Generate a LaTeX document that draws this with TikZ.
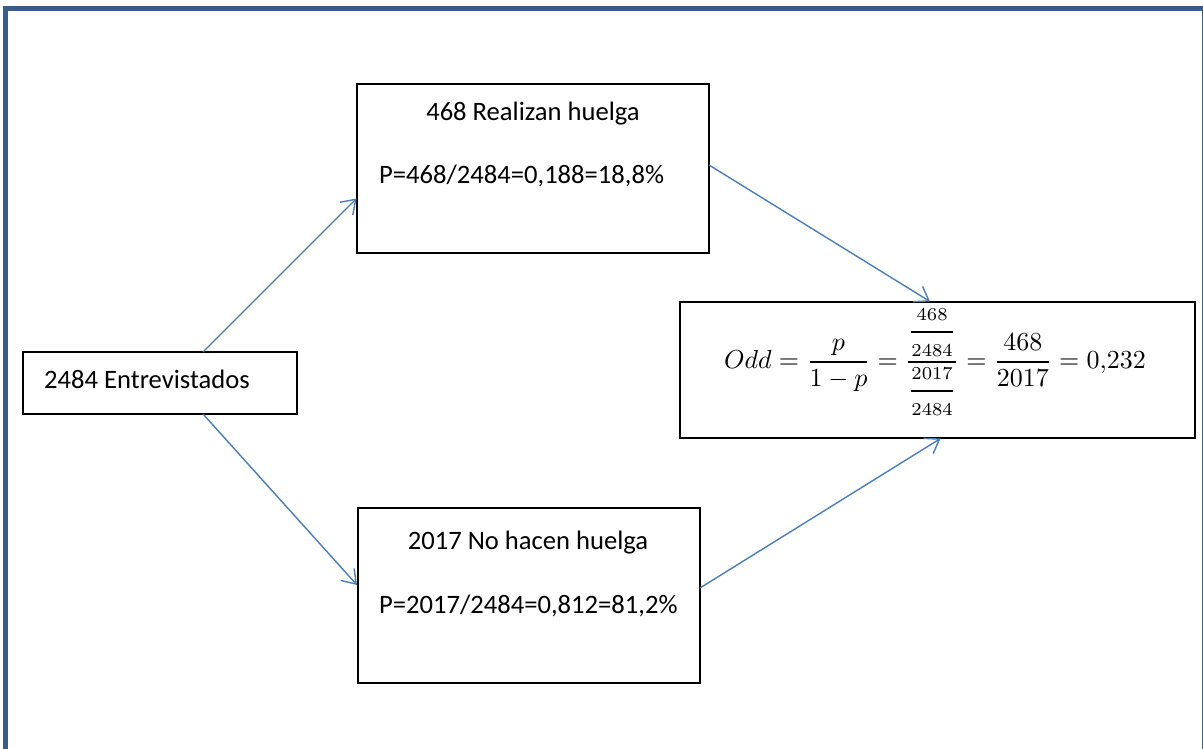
\documentclass[tikz,border=0pt]{standalone}
\usepackage{amsmath}
\usepackage{graphicx}
\usepackage{fontspec}
\setmainfont{Carlito}
\usetikzlibrary{arrows.meta}
\definecolor{framecol}{HTML}{385D8A}
\definecolor{arrowcol}{HTML}{4A7EBB}
\newcommand{\myfr}[2]{\genfrac{}{}{0.65pt}{}{#1}{#2}}
\newcommand{\mydfr}[2]{\genfrac{}{}{0.65pt}{0}{#1}{#2}}
\tikzset{
  box/.style={draw=black, line width=1.5pt, fill=white, minimum width=#1, inner sep=0pt},
  lbl/.style={inner sep=0pt, font=\fontsize{26.6}{30}\selectfont},
  conn/.style={draw=arrowcol, line width=1.4pt, -{Straight Barb[length=13pt,width=18pt]}},
}
\begin{document}
\begin{tikzpicture}[x=1pt,y=-1pt]
\useasboundingbox (0,0) rectangle (1203,749);
\begin{scope}
\clip (0,0) rectangle (1203,749);
\draw[framecol, line width=5pt] (5.7,8.5) rectangle (1204.5,780);
\end{scope}
% boxes
\node[box=352pt, minimum height=169pt] (A) at (533,168.5) {};
\node[box=274pt, minimum height=62pt] (B) at (160,383) {};
\node[box=342pt, minimum height=175pt] (C) at (529,595.5) {};
\node[box=515pt, minimum height=136pt] (D) at (937.5,370) {};
% texts
\node[lbl, anchor=base] (A1) at (533,121) {468 Realizan huelga};
\node[lbl, anchor=base west] (A2) at (379,184) {P=468/2484=0,188=18,8\%};
\node[lbl, anchor=base west] (B1) at (44,388) {2484 Entrevistados};
\node[lbl, anchor=base] (C1) at (528,549) {2017 No hacen huelga};
\node[lbl, anchor=base west] (C2) at (379,613) {P=2017/2484=0,812=81,2\%};
\node[inner sep=0pt, anchor=base, font=\fontsize{10}{12}\selectfont] (D1) at (935,368.5)
  {\scalebox{2.6}{$\displaystyle Odd=\myfr{p}{1-p}=\myfr{\mydfr{\scriptstyle 468}{\scriptstyle 2484}}{\mydfr{\scriptstyle 2017}{\scriptstyle 2484}}=\myfr{468}{2017}=0{,}232$}};
% connector end points
\coordinate (s1) at (203,352);
\coordinate (e1) at (356.5,198.5);
\coordinate (s2) at (203,414);
\coordinate (e2) at (357,585);
\coordinate (s3) at (709,165);
\coordinate (e3) at (930,301.5);
\coordinate (s4) at (700,588);
\coordinate (e4) at (940.5,438.5);
\draw[conn] (s1) -- (e1);
\draw[conn] (s2) -- (e2);
\draw[conn] (s3) -- (e3);
\draw[conn] (s4) -- (e4);
\end{tikzpicture}
\end{document}
